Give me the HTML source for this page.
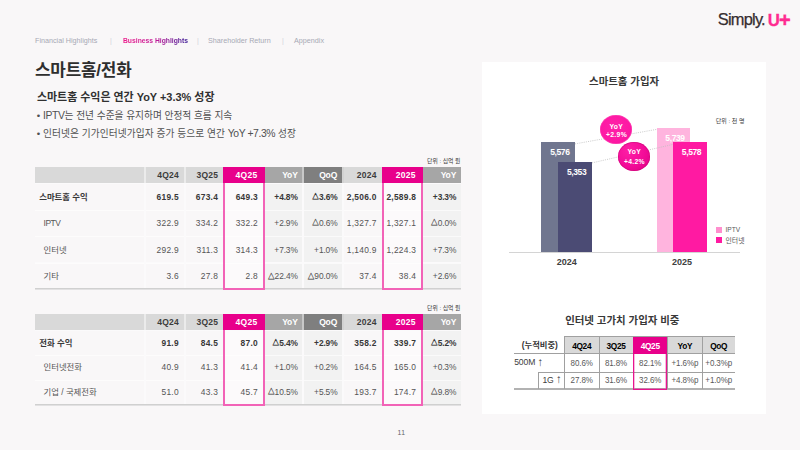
<!DOCTYPE html>
<html lang="ko">
<head>
<meta charset="utf-8">
<title>스마트홈/전화</title>
<style>
*{box-sizing:border-box;margin:0;padding:0}
html,body{width:800px;height:450px;overflow:hidden}
body{background:#f9f7f8;font-family:"Liberation Sans","Noto Sans CJK KR",sans-serif;color:#333;position:relative}
.abs{position:absolute;white-space:nowrap}
/* nav */
.nav{position:absolute;left:35px;top:35.5px;height:10px;font-size:7.2px;line-height:10px;color:#a7a9b5;white-space:nowrap}
.nav span{position:absolute;top:0}
.nav .on{font-weight:bold;font-size:6.75px;background:linear-gradient(90deg,#ec1a8a 0%,#c21a97 50%,#3c1f97 100%);-webkit-background-clip:text;background-clip:text;color:transparent}
.nav .sep{color:#cdd0da;font-size:6.8px}
.logo{position:absolute;left:0;top:0;width:800px;height:40px;white-space:nowrap}
.logo span{position:absolute;line-height:1}
.logo .s{left:717.8px;top:11.1px;font-size:16.4px;letter-spacing:-0.78px;color:#352d30;-webkit-text-stroke:0.25px #352d30}
.logo .u{left:767.8px;top:13.4px;font-size:16.8px;font-weight:bold;color:#ff2b90;-webkit-text-stroke:0.3px #ff2b90}
.logo .p{left:778.9px;top:10.4px;font-size:20px;font-weight:bold;color:#ff2b90;-webkit-text-stroke:0.4px #ff2b90}
h1{position:absolute;left:35px;top:59px;font-size:16.9px;line-height:24px;font-weight:bold;color:#2e2e2e;letter-spacing:-0.2px;white-space:nowrap}
h2{position:absolute;left:37px;top:87.8px;font-size:10.95px;line-height:18px;font-weight:bold;color:#303030;white-space:nowrap}
.bul{position:absolute;left:36.8px;font-size:9.7px;line-height:16px;color:#505050;white-space:nowrap}
.bul .en{font-size:10.4px;letter-spacing:-0.42px;line-height:1}
/* tables */
.tbl{position:absolute;left:35px;width:426px}
.tbl .abs{position:absolute}
.unit{position:absolute;right:0.6px;font-size:5.85px;line-height:8px;color:#383838;white-space:nowrap}
.hd{position:absolute;top:0;height:16.3px;line-height:16.6px;font-size:8.5px;font-weight:bold;text-align:right;padding-right:5.2px;color:#3c3c3c;background:#d9d9d9;white-space:nowrap;letter-spacing:0.2px}
.hd.m{z-index:3;background:#e8008b;color:#fff;padding-right:7px;letter-spacing:0.3px}
.hd.g1{background:#a6a6a6;color:#fff;letter-spacing:-0.15px;padding-right:4.6px}
.hd.g2{background:#7f7f7f;color:#fff;letter-spacing:-0.15px;padding-right:4.9px}
.row{position:absolute;left:0;width:426px}
.row span{position:absolute;top:0;height:100%;font-size:8.4px;color:#555;white-space:nowrap;display:flex;align-items:center;justify-content:flex-end;padding-right:5.2px;background:#f9f7f8;letter-spacing:0.25px;border-top:1px solid rgba(255,255,255,.6);padding-bottom:var(--dy)}
.row.first span{border-top:0}
.row span.l{justify-content:flex-start;padding-left:8.5px;padding-right:0;letter-spacing:0}
.row span.c2{background:#f2f2f2;letter-spacing:-0.12px;padding-right:4.5px}
.row span.cm{background:#fcfafb;padding-right:6.6px}
.row.b span{font-weight:bold;color:#383838}
.row.b span.l{padding-left:4.2px}
.row i{font-style:normal;font-size:0.78em;position:relative;top:-0.5px;margin-right:0.1px;letter-spacing:0;-webkit-text-stroke:0.3px currentColor}
.row u{text-decoration:none;letter-spacing:-0.45px}
.row em{font-style:normal;position:relative;top:-1px}
.box{position:absolute;border:2px solid #f263b7;background:transparent}
.bline{position:absolute;left:0;width:426px;height:2px;background:linear-gradient(#d0d0d0 50%,#e2e1e2 50%)}
/* right panel */
.panel{position:absolute;left:482px;top:62px;width:284px;height:351.5px;background:#fff}
.panel .abs{position:absolute}
.ct{position:absolute;white-space:nowrap;transform:translate(-50%,-50%);line-height:1}
.lt{position:absolute;white-space:nowrap;transform:translate(0,-50%);line-height:1}
.pt{font-size:10.45px;font-weight:bold;color:#383838}
.un{font-size:6.05px;color:#404040}
.vl{font-size:8.5px;font-weight:bold;color:#fff;letter-spacing:-0.4px}
.yr{font-size:9px;font-weight:bold;color:#404040}
.lg{font-size:6.6px;color:#595959}
.bub{position:absolute;border-radius:50%}
.bub.b1{background:radial-gradient(ellipse at 45% 40%,#ff22a8 0%,#fd18a3 60%,#f20e99 100%);box-shadow:inset 0 0 0 0.7px rgba(255,90,190,.55)}
.bub.b2{background:radial-gradient(ellipse at 35% 30%,#ff1fa6 0%,#f20b97 55%,#d8007f 100%);box-shadow:inset 0 0 0 0.7px rgba(200,0,115,.6)}
.bt{color:#fff;font-weight:bold;font-size:6.8px;letter-spacing:0.3px}
.sh{font-size:8.3px;font-weight:bold;color:#000;letter-spacing:-0.3px;transform:translate(-50%,-50%) scale(1,1.16)}
.sh.w{color:#fff}
.sh.k{color:#333;letter-spacing:0;transform:translate(-50%,-50%)}
.sv{font-size:8px;color:#595959;letter-spacing:-0.1px;transform:translate(-50%,-50%) scale(1,1.18)}
.sl{font-size:8.6px;color:#404040;letter-spacing:-0.1px}
.sl b{font-weight:normal;font-size:11.5px;position:relative;top:0.2px}
</style>
</head>
<body>
<div class="nav">
<span style="left:0">Financial Highlights</span>
<span class="sep" style="left:75px">|</span>
<span class="on" style="left:88px">Business Highlights</span>
<span class="sep" style="left:162px">|</span>
<span style="left:173px">Shareholder Return</span>
<span class="sep" style="left:247px">|</span>
<span style="left:259px">Appendix</span>
</div>
<div class="logo"><span class="s">Simply.</span><span class="u">U</span><span class="p">+</span></div>
<h1>스마트홈/전화</h1>
<h2>스마트홈 수익은 연간 YoY +3.3% 성장</h2>
<div class="bul" style="top:108.4px">• <span class="en" style="letter-spacing:-0.35px">IPTV</span>는 전년 수준을 유지하며 안정적 흐름 지속</div>
<div class="bul" style="top:125.8px;letter-spacing:0.08px">• 인터넷은 기가인터넷가입자 증가 등으로 연간 <span class="en">YoY +7.3%</span> 성장</div>

<!-- TABLE1 -->
<div class="tbl" style="top:167.0px;height:121.6px">
<div class="unit" style="top:-10.0px">단위 : 십억 원</div>
<div class="abs" style="left:0;top:0;width:425.75px;height:16.3px;background:#ebebeb"></div>
<div class="abs" style="left:0;top:16.3px;width:425.75px;height:105.3px;background:#fbfafb"></div>
<div class="abs" style="left:267.25px;top:0;width:2px;height:16.3px;background:#c8c8c8"></div>
<div class="abs" style="left:307.00px;top:0;width:2px;height:16.3px;background:#d2d2d2"></div>
<div class="hd" style="left:0;width:109.25px"></div>
<div class="hd" style="left:111.00px;width:38.00px">4Q24</div>
<div class="hd" style="left:150.50px;width:37.75px">3Q25</div>
<div class="hd m" style="left:188.25px;width:41.25px">4Q25</div>
<div class="hd g1" style="left:229.50px;width:37.75px">YoY</div>
<div class="hd g2" style="left:269.25px;width:37.75px">QoQ</div>
<div class="hd" style="left:309.00px;width:37.75px">2024</div>
<div class="hd m" style="left:346.75px;width:41.00px">2025</div>
<div class="hd g1" style="left:387.75px;width:38.00px">YoY</div>
<div class="row b first" style="top:17.20px;height:26.10px;--dy:0.8px">
<span class="l" style="left:0;width:109.25px"><em>스마트홈 수익</em></span>
<span class="c" style="left:111.00px;width:38.00px">619.5</span>
<span class="c" style="left:150.50px;width:37.75px">673.4</span>
<span class="c cm" style="left:188.25px;width:41.25px">649.3</span>
<span class="c c2" style="left:229.50px;width:37.75px">+4.8%</span>
<span class="c c2" style="left:269.25px;width:37.75px"><i>△</i>3.6%</span>
<span class="c" style="left:309.00px;width:37.75px">2,506.0</span>
<span class="c cm" style="left:346.75px;width:41.00px">2,589.8</span>
<span class="c c2" style="left:387.75px;width:38.00px">+3.3%</span>
</div>
<div class="row" style="top:43.30px;height:26.10px;--dy:2px">
<span class="l" style="left:0;width:109.25px"><u>IPTV</u></span>
<span class="c" style="left:111.00px;width:38.00px">322.9</span>
<span class="c" style="left:150.50px;width:37.75px">334.2</span>
<span class="c cm" style="left:188.25px;width:41.25px">332.2</span>
<span class="c c2" style="left:229.50px;width:37.75px">+2.9%</span>
<span class="c c2" style="left:269.25px;width:37.75px"><i>△</i>0.6%</span>
<span class="c" style="left:309.00px;width:37.75px">1,327.7</span>
<span class="c cm" style="left:346.75px;width:41.00px">1,327.1</span>
<span class="c c2" style="left:387.75px;width:38.00px"><i>△</i>0.0%</span>
</div>
<div class="row" style="top:69.40px;height:26.10px;--dy:0px">
<span class="l" style="left:0;width:109.25px"><em>인터넷</em></span>
<span class="c" style="left:111.00px;width:38.00px">292.9</span>
<span class="c" style="left:150.50px;width:37.75px">311.3</span>
<span class="c cm" style="left:188.25px;width:41.25px">314.3</span>
<span class="c c2" style="left:229.50px;width:37.75px">+7.3%</span>
<span class="c c2" style="left:269.25px;width:37.75px">+1.0%</span>
<span class="c" style="left:309.00px;width:37.75px">1,140.9</span>
<span class="c cm" style="left:346.75px;width:41.00px">1,224.3</span>
<span class="c c2" style="left:387.75px;width:38.00px">+7.3%</span>
</div>
<div class="row" style="top:95.50px;height:26.10px;--dy:0px">
<span class="l" style="left:0;width:109.25px"><em>기타</em></span>
<span class="c" style="left:111.00px;width:38.00px">3.6</span>
<span class="c" style="left:150.50px;width:37.75px">27.8</span>
<span class="c cm" style="left:188.25px;width:41.25px">2.8</span>
<span class="c c2" style="left:229.50px;width:37.75px"><i>△</i>22.4%</span>
<span class="c c2" style="left:269.25px;width:37.75px"><i>△</i>90.0%</span>
<span class="c" style="left:309.00px;width:37.75px">37.4</span>
<span class="c cm" style="left:346.75px;width:41.00px">38.4</span>
<span class="c c2" style="left:387.75px;width:38.00px">+2.6%</span>
</div>
<div class="bline" style="top:121.2px"></div>
<div class="box" style="left:188.25px;top:0;width:41.25px;height:123.0px"></div>
<div class="box" style="left:346.75px;top:0;width:41.00px;height:123.0px"></div>
</div>
<!-- /TABLE1 -->
<!-- TABLE2 -->
<div class="tbl" style="top:313.6px;height:90.7px">
<div class="unit" style="top:-10.1px">단위 : 십억 원</div>
<div class="abs" style="left:0;top:0;width:425.75px;height:16.3px;background:#ebebeb"></div>
<div class="abs" style="left:0;top:16.3px;width:425.75px;height:74.4px;background:#fbfafb"></div>
<div class="abs" style="left:267.25px;top:0;width:2px;height:16.3px;background:#c8c8c8"></div>
<div class="abs" style="left:307.00px;top:0;width:2px;height:16.3px;background:#d2d2d2"></div>
<div class="hd" style="left:0;width:109.25px"></div>
<div class="hd" style="left:111.00px;width:38.00px">4Q24</div>
<div class="hd" style="left:150.50px;width:37.75px">3Q25</div>
<div class="hd m" style="left:188.25px;width:41.25px">4Q25</div>
<div class="hd g1" style="left:229.50px;width:37.75px">YoY</div>
<div class="hd g2" style="left:269.25px;width:37.75px">QoQ</div>
<div class="hd" style="left:309.00px;width:37.75px">2024</div>
<div class="hd m" style="left:346.75px;width:41.00px">2025</div>
<div class="hd g1" style="left:387.75px;width:38.00px">YoY</div>
<div class="row b first" style="top:17.20px;height:24.50px;--dy:1.0px">
<span class="l" style="left:0;width:109.25px"><em>전화 수익</em></span>
<span class="c" style="left:111.00px;width:38.00px">91.9</span>
<span class="c" style="left:150.50px;width:37.75px">84.5</span>
<span class="c cm" style="left:188.25px;width:41.25px">87.0</span>
<span class="c c2" style="left:229.50px;width:37.75px"><i>△</i>5.4%</span>
<span class="c c2" style="left:269.25px;width:37.75px">+2.9%</span>
<span class="c" style="left:309.00px;width:37.75px">358.2</span>
<span class="c cm" style="left:346.75px;width:41.00px">339.7</span>
<span class="c c2" style="left:387.75px;width:38.00px"><i>△</i>5.2%</span>
</div>
<div class="row" style="top:41.70px;height:24.50px;--dy:2px">
<span class="l" style="left:0;width:109.25px"><em>인터넷전화</em></span>
<span class="c" style="left:111.00px;width:38.00px">40.9</span>
<span class="c" style="left:150.50px;width:37.75px">41.3</span>
<span class="c cm" style="left:188.25px;width:41.25px">41.4</span>
<span class="c c2" style="left:229.50px;width:37.75px">+1.0%</span>
<span class="c c2" style="left:269.25px;width:37.75px">+0.2%</span>
<span class="c" style="left:309.00px;width:37.75px">164.5</span>
<span class="c cm" style="left:346.75px;width:41.00px">165.0</span>
<span class="c c2" style="left:387.75px;width:38.00px">+0.3%</span>
</div>
<div class="row" style="top:66.20px;height:24.50px;--dy:2px">
<span class="l" style="left:0;width:109.25px"><em>기업 / 국제전화</em></span>
<span class="c" style="left:111.00px;width:38.00px">51.0</span>
<span class="c" style="left:150.50px;width:37.75px">43.3</span>
<span class="c cm" style="left:188.25px;width:41.25px">45.7</span>
<span class="c c2" style="left:229.50px;width:37.75px"><i>△</i>10.5%</span>
<span class="c c2" style="left:269.25px;width:37.75px">+5.5%</span>
<span class="c" style="left:309.00px;width:37.75px">193.7</span>
<span class="c cm" style="left:346.75px;width:41.00px">174.7</span>
<span class="c c2" style="left:387.75px;width:38.00px"><i>△</i>9.8%</span>
</div>
<div class="bline" style="top:90.3px"></div>
<div class="box" style="left:188.25px;top:0;width:41.25px;height:92.1px"></div>
<div class="box" style="left:346.75px;top:0;width:41.00px;height:92.1px"></div>
</div>
<!-- /TABLE2 -->
<!-- PANEL -->
<div class="panel">
<div class="ct pt" style="left:142.10px;top:20.30px;">스마트홈 가입자</div>
<div class="lt un" style="left:233.70px;top:58.80px;">단위 : 천 명</div>
<div class="abs" style="left:59.25px;top:80.25px;width:33.75px;height:109.75px;background:#70768f"></div>
<div class="abs" style="left:76.20px;top:100.30px;width:33.80px;height:89.70px;background:#4b4b74"></div>
<div class="abs" style="left:174.80px;top:66.40px;width:33.50px;height:123.60px;background:#ffb4de"></div>
<div class="abs" style="left:191.00px;top:80.00px;width:34.00px;height:110.00px;background:#ff1aa2"></div>
<div class="abs" style="left:27.00px;top:189.70px;width:230.80px;height:1.00px;background:#d4d4d4"></div>
<svg class="abs" style="left:0;top:0" width="284" height="352" viewBox="482 62 284 352"><line x1="575" y1="143.9" x2="657" y2="129.3" stroke="#bdbdbd" stroke-width="0.75" stroke-dasharray="1.1 1.1"/><line x1="592" y1="162.9" x2="673" y2="144.4" stroke="#bdbdbd" stroke-width="0.75" stroke-dasharray="1.1 1.1"/></svg>
<div class="ct vl" style="left:77.90px;top:89.80px;">5,576</div>
<div class="ct vl" style="left:94.60px;top:110.00px;">5,353</div>
<div class="ct vl" style="left:193.00px;top:76.00px;">5,739</div>
<div class="ct vl" style="left:209.50px;top:89.80px;">5,578</div>
<div class="bub b1" style="left:118.30px;top:53.35px;width:32.00px;height:28.90px"></div><div class="ct bt" style="left:134.30px;top:64.90px;">YoY</div><div class="ct bt" style="left:134.50px;top:73.10px;">+2.9%</div>
<div class="bub b2" style="left:136.15px;top:80.10px;width:32.10px;height:28.60px"></div><div class="ct bt" style="left:152.20px;top:89.70px;">YoY</div><div class="ct bt" style="left:152.40px;top:100.00px;">+4.2%</div>
<div class="ct yr" style="left:84.75px;top:199.80px;">2024</div>
<div class="ct yr" style="left:200.10px;top:199.80px;">2025</div>
<div class="abs" style="left:233.50px;top:164.70px;width:6.50px;height:6.00px;background:#ff8fce"></div>
<div class="abs" style="left:233.50px;top:175.20px;width:6.50px;height:6.00px;background:#ff1aa2"></div>
<div class="lt lg" style="left:243.50px;top:167.60px;">IPTV</div>
<div class="lt lg" style="left:243.50px;top:178.80px;font-size:6.9px">인터넷</div>
<div class="ct pt" style="left:140.30px;top:259.10px;">인터넷 고가치 가입자 비중</div>
<div class="abs" style="left:82.40px;top:274.40px;width:170.60px;height:17.20px;background:#d9d9d9"></div>
<div class="abs" style="left:82.40px;top:273.90px;width:170.60px;height:1.00px;background:#a0a0a0"></div>
<div class="abs" style="left:31.60px;top:291.10px;width:221.40px;height:1.00px;background:#a0a0a0"></div>
<div class="abs" style="left:56.60px;top:309.50px;width:196.40px;height:1.00px;background:#a0a0a0"></div>
<div class="abs" style="left:31.60px;top:326.10px;width:221.40px;height:1.80px;background:#b2b2b2"></div>
<div class="abs" style="left:81.90px;top:274.40px;width:1.00px;height:52.60px;background:#a0a0a0"></div>
<div class="abs" style="left:116.50px;top:274.40px;width:1.00px;height:52.60px;background:#a0a0a0"></div>
<div class="abs" style="left:150.50px;top:274.40px;width:1.00px;height:52.60px;background:#a0a0a0"></div>
<div class="abs" style="left:184.90px;top:274.40px;width:1.00px;height:52.60px;background:#a0a0a0"></div>
<div class="abs" style="left:219.90px;top:274.40px;width:1.00px;height:52.60px;background:#a0a0a0"></div>
<div class="abs" style="left:56.10px;top:310.00px;width:1.00px;height:17.00px;background:#a0a0a0"></div>
<div class="abs" style="left:151.20px;top:274.80px;width:34.20px;height:52.80px;border:1px solid #e8148f;box-shadow:inset 0 0 0 1px rgba(232,0,139,.28)"></div>
<div class="abs" style="left:151.20px;top:274.70px;width:34.20px;height:17.30px;background:#e8008b"></div>
<div class="ct sh" style="left:99.70px;top:284.30px;">4Q24</div>
<div class="ct sv" style="left:99.70px;top:301.50px;">80.6%</div>
<div class="ct sv" style="left:99.70px;top:318.70px;">27.8%</div>
<div class="ct sh" style="left:134.00px;top:284.30px;">3Q25</div>
<div class="ct sv" style="left:134.00px;top:301.50px;">81.8%</div>
<div class="ct sv" style="left:134.00px;top:318.70px;">31.6%</div>
<div class="ct sh w" style="left:168.20px;top:284.30px;">4Q25</div>
<div class="ct sv" style="left:168.20px;top:301.50px;">82.1%</div>
<div class="ct sv" style="left:168.20px;top:318.70px;">32.6%</div>
<div class="ct sh" style="left:202.90px;top:284.30px;">YoY</div>
<div class="ct sv" style="left:202.90px;top:301.50px;">+1.6%p</div>
<div class="ct sv" style="left:202.90px;top:318.70px;">+4.8%p</div>
<div class="ct sh" style="left:236.70px;top:284.30px;">QoQ</div>
<div class="ct sv" style="left:236.70px;top:301.50px;">+0.3%p</div>
<div class="ct sv" style="left:236.70px;top:318.70px;">+1.0%p</div>
<div class="ct sh k" style="left:57.80px;top:282.90px;">(누적비중)</div>
<div class="lt sl" style="left:32.20px;top:300.40px;">500M <b>↑</b></div>
<div class="lt sl" style="left:60.40px;top:318.30px;">1G <b>↑</b></div>
</div>
<!-- /PANEL -->
<div class="abs" style="left:397.4px;top:428.2px;font-size:6.8px;line-height:9px;color:#666;letter-spacing:0.6px">11</div>
</body>
</html>
